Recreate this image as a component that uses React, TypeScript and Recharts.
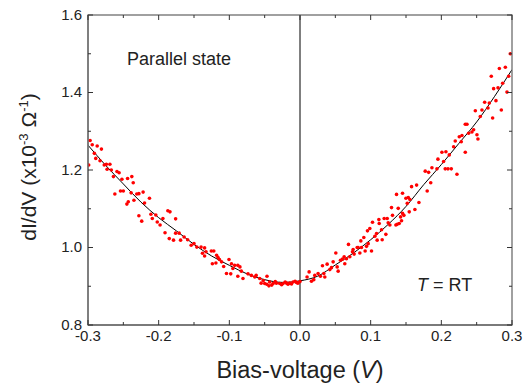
import React from "react"
import { ComposedChart, Scatter, Line, XAxis, YAxis, ReferenceLine, Label } from "recharts"

// measured dI/dV points (bias in V, conductance in 1e-3 S)
const biasLeft = [
-0.299,-0.297,-0.294,-0.291,-0.289,-0.287,-0.283,-0.281,-0.277,-0.274,-0.273,-0.269,-0.267,-0.264,-0.262,
-0.259,-0.256,-0.254,-0.252,-0.250,-0.245,-0.244,-0.243,-0.239,-0.238,-0.236,-0.235,-0.231,-0.228,-0.228,
-0.224,-0.222,-0.220,-0.213,-0.211,-0.209,-0.204,-0.202,-0.198,-0.194,-0.191,-0.187,-0.185,-0.184,-0.179,
-0.176,-0.176,-0.171,-0.169,-0.164,-0.159,-0.154,-0.150,-0.146,-0.140,-0.138,-0.135,-0.135,-0.133,
-0.1255,-0.124,-0.122,-0.119,-0.118,-0.116,-0.114,-0.111,-0.108,-0.104,-0.1005,-0.098,-0.097,-0.095,-0.0925,
-0.088,-0.088,-0.085,-0.083,-0.0807,-0.0736,-0.0688,-0.064,-0.062,-0.057,-0.055,-0.052,-0.050,-0.047,-0.0467,
-0.044,-0.043,-0.040,-0.038,-0.035,-0.0334,-0.0287,-0.026,-0.024,-0.021,-0.019,-0.017,-0.0145,-0.012,-0.0098,
-0.007,-0.005,-0.003,0.000
]
const condLeft = [
1.213,1.276,1.265,1.243,1.230,1.262,1.224,1.254,1.213,1.215,1.202,1.215,1.200,1.183,1.138,
1.196,1.193,1.146,1.176,1.146,1.112,1.178,1.118,1.141,1.183,1.167,1.122,1.138,1.139,1.082,
1.068,1.143,1.115,1.127,1.086,1.075,1.084,1.066,1.058,1.075,1.038,1.095,1.023,1.092,1.019,
1.074,1.037,1.037,1.019,1.027,1.020,1.006,1.010,1.001,1.001,0.985,0.999,0.978,0.989,
0.991,0.958,0.991,0.960,0.980,0.974,0.969,0.963,0.951,0.933,0.969,0.932,0.958,0.946,0.954,
0.954,0.926,0.950,0.939,0.920,0.932,0.928,0.924,0.928,0.920,0.908,0.915,0.907,0.905,0.926,
0.901,0.911,0.903,0.907,0.912,0.908,0.907,0.904,0.907,0.911,0.908,0.905,0.908,0.906,0.911,
0.913,0.910,0.908,0.912
]

const biasRight = [
0.0100,0.0129,0.0162,0.0195,0.0209,0.0256,0.0289,0.0318,0.0337,0.0351,0.0384,0.0422,0.0445,0.0469,0.0507,
0.0526,0.0540,0.0573,0.0601,0.0625,0.0634,0.0658,0.0686,0.0705,0.0743,0.0752,0.0766,0.0809,0.0823,0.0847,
0.0861,0.0870,0.0903,0.0922,0.0941,0.0955,0.0965,0.0988,0.1012,0.1026,0.1059,0.1083,0.1092,0.1116,0.1121,
0.1154,0.1163,0.1191,0.1215,0.1234,0.1248,0.1272,0.1295,0.1309,0.1357,0.1366,0.1376,0.1390,0.1404,0.1423,
0.1437,0.1451,0.1451,0.1470,0.1499,0.1518,0.1532,0.1546,0.1555,0.1579,0.1626,0.1650,0.1683,
0.1772,0.1800,0.1820,0.1850,0.1867,0.1938,0.1952,0.2008,0.2032,0.2055,0.2065,0.2094,0.2112,0.2141,0.2174,
0.2197,0.2221,0.2254,0.2282,0.2292,0.2339,0.2339,0.2363,0.2386,0.2433,0.2457,0.2481,0.2504,0.2518,0.2551,
0.2575,0.2613,0.2660,0.2679,0.2707,0.2726,0.2740,0.2773,0.2802,0.2821,0.2849,0.2868,0.2906,0.2929,0.2953,0.2976
]
const condRight = [
0.924,0.937,0.913,0.917,0.928,0.933,0.926,0.953,0.933,0.924,0.957,0.943,0.948,0.963,0.986,
0.950,0.939,0.967,0.970,0.976,0.958,0.971,1.008,0.976,0.989,0.995,0.983,1.000,1.000,0.986,
1.017,1.000,1.026,0.991,1.003,1.043,1.010,1.049,0.991,1.065,1.029,1.036,1.019,1.072,1.062,
1.046,1.020,1.075,1.034,1.075,1.064,1.058,1.103,1.083,1.058,1.137,1.060,1.101,1.062,1.079,
1.069,1.088,1.140,1.083,1.127,1.114,1.129,1.092,1.124,1.157,1.098,1.161,1.116,
1.197,1.146,1.194,1.167,1.206,1.203,1.228,1.246,1.222,1.203,1.247,1.203,1.239,1.203,1.260,
1.275,1.189,1.286,1.273,1.289,1.318,1.246,1.318,1.295,1.298,1.304,1.353,1.291,1.280,1.338,
1.355,1.375,1.360,1.373,1.442,1.334,1.410,1.379,1.412,1.462,1.355,1.424,1.465,1.401,1.442,1.500
]

// fitted curve
const fitBias = [-0.3,-0.275,-0.25,-0.225,-0.2,-0.175,-0.15,-0.125,-0.1,-0.075,-0.05,-0.025,0,0.025,0.05,0.075,0.1,0.125,0.15,0.175,0.2,0.225,0.25,0.275,0.3]
const fitCond = [1.264,1.212,1.164,1.117,1.077,1.043,1.008,0.978,0.954,0.932,0.917,0.910,0.914,0.926,0.955,0.985,1.020,1.060,1.106,1.162,1.214,1.269,1.324,1.389,1.459]

const xTicks = [-0.3,-0.25,-0.2,-0.15,-0.1,-0.05,0,0.05,0.1,0.15,0.2,0.25,0.3]
const yTicks = [0.8,0.9,1.0,1.1,1.2,1.3,1.4,1.5,1.6]

const allCond = [...condLeft, ...condRight]
const points = [...biasLeft, ...biasRight].map((b, i) => ({ x: b, y: allCond[i] }))
const fit = fitBias.map((b, i) => ({ x: b, y: fitCond[i] }))

const X0 = -0.3, X1 = 0.3, Y0 = 0.8, Y1 = 1.6

// chart layout
const W = 532, H = 387
const M = {top:15, right:20, bottom:0, left:0}
const AXIS_H = 62, AXIS_W = 88
const PL = M.left + AXIS_W, PT = M.top
const PLOT_W = W - M.left - M.right - AXIS_W
const PLOT_H = H - M.top - M.bottom - AXIS_H
const px = (v:number) => PL + (v - X0) / (X1 - X0) * PLOT_W
const py = (v:number) => PT + (Y1 - v) / (Y1 - Y0) * PLOT_H

const FONT = "'Liberation Sans', Arial, sans-serif"
const TICK = "#333"
const FRAME = "#6e6e6e"

const majorX = (v:number) => Math.abs(v*10 - Math.round(v*10)) < 1e-6
const majorY = (v:number) => Math.abs(v*5 - Math.round(v*5)) < 1e-6

const BottomTick = ({x, y, payload}:any) => majorX(payload.value) ? (
  <text x={x} y={y+16} textAnchor="middle" fontSize={15} fontFamily={FONT} fill="#222">{payload.value.toFixed(1)}</text>
) : <g/>

const LeftTick = ({x, y, payload}:any) => majorY(payload.value) ? (
  <text x={x-6} y={y+4.5} textAnchor="end" fontSize={15} fontFamily={FONT} fill="#222">{payload.value.toFixed(1)}</text>
) : <g/>

const Dot = ({cx, cy}:any) => <circle cx={cx} cy={cy} r={1.8} fill="#ff0000"/>

const YTitle = ({viewBox}:any) => {
  const x = viewBox.x + 36
  const y = viewBox.y + viewBox.height/2 - 3
  return (
    <text x={x} y={y} transform={`rotate(-90 ${x} ${y})`} textAnchor="middle" fontSize={21} fontFamily={FONT} fill="#222">
      dI/dV (x10<tspan dy={-8} fontSize={13}>-3</tspan><tspan dy={8}> Ω</tspan><tspan dy={-8} fontSize={13}>-1</tspan><tspan dy={8}>)</tspan>
    </text>
  )
}
const XTitle = ({viewBox}:any) => (
  <text x={viewBox.x + viewBox.width/2} y={viewBox.y + 53} textAnchor="middle" fontSize={23.5} fontFamily={FONT} fill="#222">
    Bias-voltage (<tspan fontStyle="italic">V</tspan>)
  </text>
)

// frame box with inward ticks on all four sides
const Frame = () => {
  let d = ""
  xTicks.forEach(v => {
    const l = majorX(v) ? 5 : 3
    d += `M${px(v)},${PT+PLOT_H}v${-l}M${px(v)},${PT}v${l}`
  })
  yTicks.forEach(v => {
    const l = majorY(v) ? 5 : 3
    d += `M${PL},${py(v)}h${l}M${PL+PLOT_W},${py(v)}h${-l}`
  })
  return (
    <g>
      <rect x={PL} y={PT} width={PLOT_W} height={PLOT_H} fill="none" stroke={FRAME} strokeWidth={1.3}/>
      <path d={d} stroke={TICK} strokeWidth={1} fill="none"/>
    </g>
  )
}

export default function App(){
return(
<div style={{position:"absolute", left:0, top:0, width:W, height:H, background:"#fff"}}>

<ComposedChart width={W} height={H} margin={M}>

<XAxis dataKey="x" type="number" domain={[X0,X1]} ticks={xTicks} allowDataOverflow
  height={AXIS_H} tickSize={0} tickMargin={0} tickLine={false} tick={BottomTick}
  axisLine={{stroke:FRAME, strokeWidth:1.3}} interval={0}>
  <Label content={<XTitle/>}/>
</XAxis>
<YAxis dataKey="y" type="number" domain={[Y0,Y1]} ticks={yTicks} allowDataOverflow
  width={AXIS_W} tickSize={0} tickMargin={0} tickLine={false} tick={LeftTick}
  axisLine={{stroke:FRAME, strokeWidth:1.3}} interval={0}>
  <Label content={<YTitle/>}/>
</YAxis>

<ReferenceLine x={0} stroke="#000" strokeWidth={1}/>

<Scatter data={points} dataKey="y" shape={<Dot/>} isAnimationActive={false}/>

<Line data={fit} dataKey="y" type="monotone" stroke="#000" strokeWidth={1} dot={false} isAnimationActive={false}/>

</ComposedChart>

<svg width={W} height={H} style={{position:"absolute", left:0, top:0, pointerEvents:"none"}}>
<Frame/>
<text x={127} y={65} fontSize={18} fontFamily={FONT} fill="#222">Parallel state</text>
<text x={417} y={291} fontSize={18} fontFamily={FONT} fill="#222"><tspan fontStyle="italic">T</tspan> = RT</text>
</svg>

</div>
)
}
